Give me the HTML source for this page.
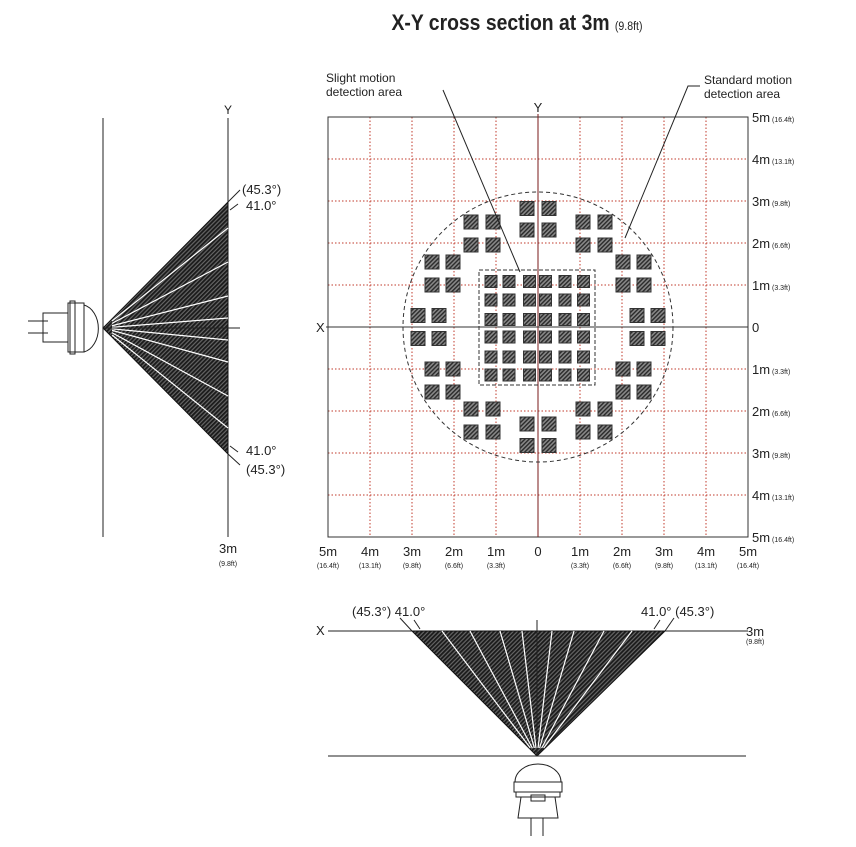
<!DOCTYPE html>
<html><head><meta charset="utf-8"><style>
html,body{margin:0;padding:0;background:#fff;width:856px;height:847px;overflow:hidden}
svg{display:block}
text{font-family:"Liberation Sans",sans-serif;fill:#222}
</style></head><body>
<svg id="s" width="856" height="847" viewBox="0 0 856 847" xmlns="http://www.w3.org/2000/svg">
<defs>
<pattern id="h" width="3" height="3" patternUnits="userSpaceOnUse" patternTransform="rotate(45)">
<rect width="3" height="3" fill="#888"/><rect width="1.4" height="3" fill="#2a2a2a"/>
</pattern>
<pattern id="hf" width="3" height="3" patternUnits="userSpaceOnUse" patternTransform="rotate(45)">
<rect width="3" height="3" fill="#666"/><rect width="1.8" height="3" fill="#1a1a1a"/>
</pattern>
</defs>
<text x="517" y="30" text-anchor="middle" font-size="22" font-weight="bold" transform="translate(517 0) scale(0.88 1) translate(-517 0)">X-Y cross section at 3m <tspan font-size="12" font-weight="normal">(9.8ft)</tspan></text>
<g id="grid"></g>
<g id="sq"></g>
<circle cx="538" cy="327" r="135" fill="none" stroke="#333" stroke-dasharray="4 3"/>
<rect x="479" y="270" width="116" height="115" fill="none" stroke="#333" stroke-dasharray="4 2"/>
<text x="326" y="82" font-size="12">Slight motion</text>
<text x="326" y="96" font-size="12">detection area</text>
<polyline points="443,90 520,272" fill="none" stroke="#222"/>
<text x="704" y="84" font-size="12">Standard motion</text>
<text x="704" y="98" font-size="12">detection area</text>
<polyline points="700,86 688,86 625,238" fill="none" stroke="#222"/>
<text x="538" y="112" text-anchor="middle" font-size="13">Y</text>
<text x="316" y="332" font-size="13">X</text>
<g id="lab"></g>
<line x1="103" y1="118" x2="103" y2="537" stroke="#222"/>
<line x1="228" y1="118" x2="228" y2="537" stroke="#222"/>
<text x="228" y="114" text-anchor="middle" font-size="12">Y</text>
<polygon points="103,328 228,202 228,454" fill="url(#hf)" stroke="#111"/>
<g id="lr" stroke="#fff" stroke-width="1.2"></g>
<line x1="103" y1="328" x2="240" y2="328" stroke="#222"/>
<line x1="228" y1="202" x2="240" y2="190" stroke="#222"/>
<line x1="230" y1="210" x2="238" y2="204" stroke="#222"/>
<line x1="230" y1="446" x2="238" y2="452" stroke="#222"/>
<line x1="228" y1="454" x2="240" y2="465" stroke="#222"/>
<text x="242" y="194" font-size="13">(45.3°)</text>
<text x="246" y="210" font-size="13">41.0°</text>
<text x="246" y="455" font-size="13">41.0°</text>
<text x="246" y="474" font-size="13">(45.3°)</text>
<text x="228" y="553" text-anchor="middle" font-size="13">3m</text>
<text x="228" y="566" text-anchor="middle" font-size="7">(9.8ft)</text>
<g fill="none" stroke="#222" stroke-width="1">
<path d="M84,305 A18,24 0 0 1 84,352"/>
<rect x="68" y="303" width="16" height="49"/>
<rect x="70" y="301" width="5" height="53"/>
<rect x="43" y="313" width="25" height="29"/>
<line x1="28" y1="321" x2="48" y2="321"/><line x1="28" y1="333" x2="48" y2="333"/>
</g>
<line x1="328" y1="631" x2="748" y2="631" stroke="#222"/>
<text x="316" y="635" font-size="13">X</text>
<text x="746" y="636" font-size="13">3m</text>
<text x="746" y="644" font-size="7">(9.8ft)</text>
<polygon points="537,756 412,631 665,631" fill="url(#hf)" stroke="#111"/>
<g id="br" stroke="#fff" stroke-width="1.2"></g>
<line x1="537" y1="620" x2="537" y2="756" stroke="#222"/>
<line x1="328" y1="756" x2="746" y2="756" stroke="#222"/>
<line x1="412" y1="631" x2="400" y2="618" stroke="#222"/>
<line x1="420" y1="629" x2="414" y2="620" stroke="#222"/>
<line x1="654" y1="629" x2="660" y2="620" stroke="#222"/>
<line x1="665" y1="631" x2="674" y2="618" stroke="#222"/>
<text x="352" y="616" font-size="13">(45.3°) 41.0°</text>
<text x="641" y="616" font-size="13">41.0° (45.3°)</text>
<g fill="none" stroke="#222">
<path d="M515,782 A23,18 0 0 1 561,782"/>
<rect x="514" y="782" width="48" height="10"/>
<rect x="516" y="792" width="44" height="5"/>
<rect x="531" y="795" width="14" height="6"/>
<path d="M521,797 L518,818 L558,818 L555,797"/>
<line x1="531" y1="818" x2="531" y2="836"/><line x1="543" y1="818" x2="543" y2="836"/>
</g>
</svg>
<script>
var NS="http://www.w3.org/2000/svg";
function el(p,t,a,txt){var e=document.createElementNS(NS,t);for(var k in a)e.setAttribute(k,a[k]);if(txt!=null)e.textContent=txt;document.getElementById(p).appendChild(e);return e;}
for(var i=1;i<10;i++){var v=328+42*i;
el("grid","line",{x1:v,y1:117,x2:v,y2:537,stroke:"#c0392b","stroke-dasharray":"1.5 2","stroke-width":1});
el("grid","line",{x1:328,y1:117+42*i,x2:748,y2:117+42*i,stroke:"#c0392b","stroke-dasharray":"1.5 2","stroke-width":1});}
el("grid","rect",{x:328,y:117,width:420,height:420,fill:"none",stroke:"#333"});
el("grid","line",{x1:538,y1:114,x2:538,y2:537,stroke:"#7a1a1a"});
el("grid","line",{x1:326,y1:327,x2:748,y2:327,stroke:"#333"});
var ft=["16.4ft","13.1ft","9.8ft","6.6ft","3.3ft"];
for(var i=0;i<=10;i++){var y=117+42*i,n=Math.abs(5-i);
var t=el("lab","text",{x:752,y:y+5,"font-size":13},n==0?"0":n+"m");
if(n){var s=document.createElementNS(NS,"tspan");s.setAttribute("font-size","7");s.textContent=" ("+ft[5-n]+")";t.appendChild(s);}
var x=328+42*i;el("lab","text",{x:x,y:556,"text-anchor":"middle","font-size":13},n==0?"0":n+"m");
if(n)el("lab","text",{x:x,y:568,"text-anchor":"middle","font-size":7},"("+ft[5-n]+")");}
function sq(cx,cy,s){el("sq","rect",{x:cx-s/2,y:cy-s/2,width:s,height:s,fill:"url(#h)",stroke:"#333","stroke-width":1});}
var cx=538,cy=327;
var outer=[[-11,-118.5],[11,-118.5],[-11,-97],[11,-97],
[-67,-105],[-45,-105],[-67,-82],[-45,-82],
[-106,-65],[-85,-65],[-106,-42],[-85,-42],
[-120,-11.5],[-99,-11.5]];
outer.forEach(function(p){[[1,1],[-1,1],[1,-1],[-1,-1]].forEach(function(c){sq(cx+p[0]*c[0],cy+p[1]*c[1],14);});});
var xs=[491,509,529.5,545.5,565,583.5],ys=[281.5,300,319.5,337,357,375];
xs.forEach(function(x){ys.forEach(function(y){sq(x,y,12);});});
[228,262,296,318,340,362,396,428].forEach(function(y){el("lr","line",{x1:112,y1:328+(y-328)*0.07,x2:228,y2:y});});
[442,470,500,522,552,574,604,632].forEach(function(x){el("br","line",{x1:537+(x-537)*0.07,y1:748,x2:x,y2:631});});
</script>
</body></html>
